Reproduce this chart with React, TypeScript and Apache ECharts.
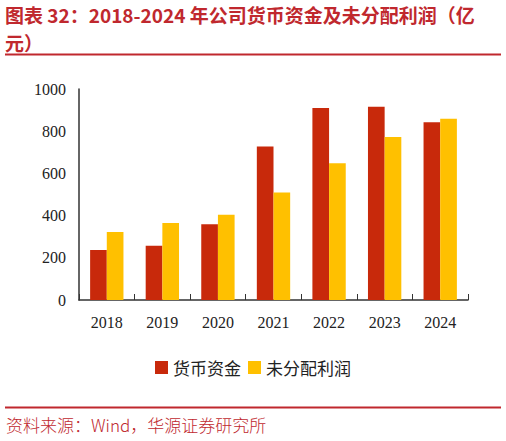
import { useRef, useEffect } from 'react'
import * as echarts from 'echarts'

const years = ['2018', '2019', '2020', '2021', '2022', '2023', '2024']
const cashFunds = [237, 257, 359, 727, 910, 916, 842]
const retainedProfit = [322, 365, 404, 509, 648, 772, 859]
const seriesNames = ['货币资金', '未分配利润']

const RED = '#c0282e'

function App() {
  const chartRef = useRef<HTMLDivElement>(null)

  useEffect(() => {
    document.body.style.margin = '0'
    if (!chartRef.current) return
    const myChart = echarts.init(chartRef.current, undefined, { renderer: 'svg' })
    const serif = '"Liberation Serif", "Times New Roman", serif'
    const cjk = '"Noto Sans CJK SC", sans-serif'
    const option = {
      animation: false,
      backgroundColor: '#fff',
      title: {
        text: '图表 32：2018-2024 年公司货币资金及未分配利润（亿\n元）',
        left: 5,
        top: 0,
        padding: 0,
        textStyle: {
          color: RED,
          fontSize: 19,
          fontWeight: 'bold',
          fontFamily: cjk,
          lineHeight: 28,
        },
      },
      graphic: [
        { type: 'line', shape: { x1: 5, y1: 54.5, x2: 501, y2: 54.5 }, style: { stroke: RED, lineWidth: 2 } },
        { type: 'line', shape: { x1: 5, y1: 407.5, x2: 501, y2: 407.5 }, style: { stroke: RED, lineWidth: 2 } },
        {
          type: 'text',
          left: 6,
          top: 416,
          style: { text: '资料来源：Wind，华源证券研究所', fill: RED, fontSize: 17, fontFamily: cjk, fontWeight: 300 },
        },
      ],
      legend: {
        data: seriesNames,
        top: 354,
        left: 'center',
        itemWidth: 13,
        itemHeight: 13,
        itemGap: 7,
        icon: 'rect',
        textStyle: { fontSize: 17, color: '#222', fontFamily: cjk },
      },
      grid: { left: 79, right: 38, top: 89, bottom: 141 },
      xAxis: {
        type: 'category',
        data: years,
        axisLine: { lineStyle: { color: '#333', width: 1.5 } },
        axisTick: { show: true, inside: true, length: 6, lineStyle: { color: '#333' } },
        axisLabel: { color: '#222', fontSize: 16, fontFamily: serif, margin: 14 },
      },
      yAxis: {
        type: 'value',
        min: 0,
        max: 1000,
        interval: 200,
        splitLine: { show: false },
        axisLine: { show: true, lineStyle: { color: '#333', width: 1.5 } },
        axisTick: { show: false },
        axisLabel: { color: '#222', fontSize: 16, fontFamily: serif, margin: 13, formatter: (v: number) => String(v) },
      },
      series: [
        {
          name: seriesNames[0],
          type: 'bar',
          data: cashFunds,
          barGap: '0%',
          barCategoryGap: '40%',
          itemStyle: { color: '#c8290b' },
        },
        {
          name: seriesNames[1],
          type: 'bar',
          data: retainedProfit,
          itemStyle: { color: '#ffc000' },
        },
      ],
    }
    myChart.setOption(option)

    return () => {
      myChart.dispose()
    }
  }, [])

  return <div ref={chartRef} style={{ width: '506px', height: '441px' }}></div>
}

export default App
